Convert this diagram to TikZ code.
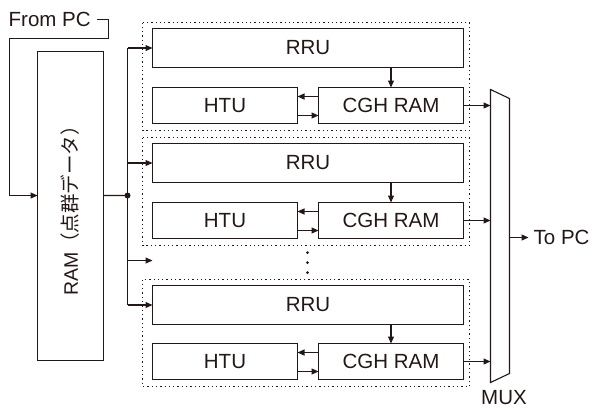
\documentclass[tikz,border=0pt]{standalone}
\usepackage{fontspec}
\setmainfont{Liberation Sans}
\newfontfamily\jpfont{Noto Sans CJK JP}
\usepackage{xcolor}
\usetikzlibrary{positioning,arrows.meta}
\definecolor{ink}{RGB}{35,24,21}

\begin{document}
\begin{tikzpicture}[x=1bp,y=-1bp,font=\fontsize{20.5bp}{24bp}\selectfont,text=ink,
  box/.style={draw=ink,line width=1.1bp,inner sep=0bp,outer sep=0bp,minimum height=36bp,minimum width=145bp},
  grp/.style={draw=ink,line width=1.2bp,dash pattern=on 1.3bp off 3bp},
  arr/.style={draw=ink,line width=1.1bp,-{Triangle[length=7bp,width=6bp]}},
  wire/.style={draw=ink,line width=1.1bp}]
  \useasboundingbox (-0.5,-0.5) rectangle (592.5,407.5);
  % RAM and input from PC
  \node[box,rotate=90,minimum width=309bp,minimum height=66bp,font=\fontsize{19.5bp}{22bp}\selectfont] (ram) at (70,205.5) {RAM{\jpfont （点群データ）}};
  \node[anchor=west,inner sep=0bp] (frompc) at (8,19) {From PC};
  \coordinate (ramin) at ([yshift=10.5bp]ram.north);
  \coordinate (ramout) at ([yshift=10.5bp]ram.south);
  \draw[arr] ([xshift=6bp]frompc.east) -- ++(12,0) -- ++(0,19) -- (9,38) |- (ramin);
  % processing units
  \node[box,minimum width=311bp,minimum height=39bp] (rru1) at (307.5,47.5) {RRU};
  \node[box,below left=20bp and 0bp of rru1.south east] (cgh1) {CGH RAM};
  \node[box,left=21bp of cgh1] (htu1) {HTU};
  \node[box,minimum width=311bp,minimum height=39bp,below right=20bp and 0bp of htu1.south west] (rru2) {RRU};
  \node[box,below left=20bp and 0bp of rru2.south east] (cgh2) {CGH RAM};
  \node[box,left=21bp of cgh2] (htu2) {HTU};
  \node[box,minimum width=311bp,minimum height=39bp,below right=47bp and 0bp of htu2.south west] (rru3) {RRU};
  \node[box,below left=19bp and 0bp of rru3.south east] (cgh3) {CGH RAM};
  \node[box,left=21bp of cgh3] (htu3) {HTU};
  \foreach \g in {1,2,3}{
    \draw[grp] ([shift={(-10bp,6bp)}]rru\g.north west) rectangle ([shift={(6bp,-7bp)}]cgh\g.south east);
    \draw[arr] (rru\g.south -| cgh\g.north) -- (cgh\g.north);
    \draw[arr] ([yshift=9bp]cgh\g.west) -- ([yshift=9bp]htu\g.east);
    \draw[arr] ([yshift=-10bp]htu\g.east) -- ([yshift=-10bp]cgh\g.west);
  }
  % bus
  \coordinate (bus) at (127,195);
  \coordinate (gapend) at (152,260);
  \draw[wire] (ramout) -- (bus);
  \fill[ink] (bus) circle (3bp);
  \draw[wire] (bus |- rru1.west) -- (bus |- rru3.west);
  \draw[arr] (bus |- rru1.west) -- (rru1.west);
  \draw[arr] (bus |- rru2.west) -- (rru2.west);
  \draw[arr] (bus |- gapend) -- (gapend);
  \draw[arr] (bus |- rru3.west) -- (rru3.west);
  \coordinate (vdots) at (307,262);
  \foreach \dy in {-10,0,10} \fill[ink] ([yshift=\dy bp]vdots) circle (1.5bp);
  % multiplexer
  \coordinate (muxtl) at (490,89);
  \coordinate (muxtr) at (509,98);
  \coordinate (muxbr) at (509,373);
  \coordinate (muxbl) at (490,382);
  \draw[wire] (muxtl) -- (muxtr) -- (muxbr) -- (muxbl) -- cycle;
  \node[anchor=base,inner sep=0bp] (muxlbl) at (503.5,403.5) {MUX};
  \foreach \g in {1,2,3} \draw[arr] (cgh\g.east) -- (cgh\g.east -| muxtl);
  \node[anchor=west,inner sep=0bp] (topc) at (533,237) {To PC};
  \draw[arr] (muxtr |- topc.west) -- ([xshift=-5bp]topc.west);
\end{tikzpicture}
\end{document}
